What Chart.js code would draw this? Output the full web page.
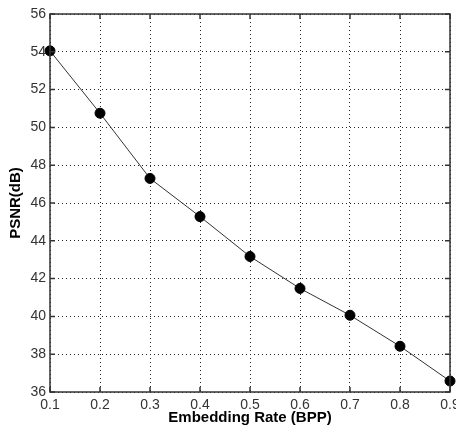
<!DOCTYPE html>
<html>
<head>
<meta charset="utf-8">
<script src="https://cdn.jsdelivr.net/npm/chart.js@4.4.0/dist/chart.umd.min.js"></script>
<style>
	html, body { margin: 0; padding: 0; background: #fff; }
	#psnrChart { display: block; }
</style>
</head>
<body>
<canvas id="psnrChart" width="456" height="438"></canvas>
<script>
const rates = [0.1, 0.2, 0.3, 0.4, 0.5, 0.6, 0.7, 0.8, 0.9]
const psnr = [54.05, 50.75, 47.3, 45.28, 43.17, 41.48, 40.06, 38.42, 36.58]
const xTicks = [0.1, 0.2, 0.3, 0.4, 0.5, 0.6, 0.7, 0.8, 0.9]
const yTicks = [36, 38, 40, 42, 44, 46, 48, 50, 52, 54, 56]

// matlab style little ticks inside the box
const innerTicks = {
	id: 'innerTicks',
	afterDatasetsDraw(chart) {
		const c = chart.ctx, a = chart.chartArea
		const xs = chart.scales.x, ys = chart.scales.y
		c.save()
		c.strokeStyle = '#333'
		c.lineWidth = 1.5
		c.beginPath()
		xTicks.forEach(v => {
			const px = xs.getPixelForValue(v)
			c.moveTo(px, a.bottom); c.lineTo(px, a.bottom - 5)
			c.moveTo(px, a.top); c.lineTo(px, a.top + 5)
		})
		yTicks.forEach(v => {
			const py = ys.getPixelForValue(v)
			c.moveTo(a.left, py); c.lineTo(a.left + 5, py)
			c.moveTo(a.right, py); c.lineTo(a.right - 5, py)
		})
		c.stroke()
		c.strokeRect(a.left, a.top, a.right - a.left, a.bottom - a.top)
		c.restore()
	}
}

const ctx = document.getElementById('psnrChart')
new Chart(ctx, {
	type: 'line',
	data: {
		datasets: [{
			data: rates.map((r, i) => ({ x: r, y: psnr[i] })),
			borderColor: '#333',
			borderWidth: 1,
			pointBackgroundColor: '#000',
			pointBorderColor: '#000',
			pointRadius: 5,
			tension: 0
		}]
	},
	options: {
		responsive: false,
		animation: false,
		clip: false,
		layout: { padding: { top: 14, right: 4, left: 7, bottom: 11 } },
		plugins: { legend: { display: false }, tooltip: { enabled: false } },
		scales: {
			x: {
				type: 'linear',
				min: 0.1,
				max: 0.9,
				afterBuildTicks: s => { s.ticks = xTicks.map(v => ({ value: v })) },
				afterFit: s => { s.height = 35; s.paddingRight = 0; s.paddingLeft = 0 },
				grid: { color: '#222', lineWidth: 1, drawTicks: false },
				border: { display: false, dash: [1, 3] },
				ticks: {
					padding: 5,
					color: '#333',
					font: { family: 'Liberation Sans', size: 14 },
					callback: v => v.toFixed(1)
				},
				title: {
					display: true,
					text: 'Embedding Rate (BPP)',
					color: '#000',
					padding: { top: 0, bottom: 0 },
					font: { family: 'Liberation Sans', size: 15, weight: 'bold' }
				}
			},
			y: {
				min: 36,
				max: 56,
				afterBuildTicks: s => { s.ticks = yTicks.map(v => ({ value: v })) },
				afterFit: s => { s.width = 43 },
				grid: { color: '#222', lineWidth: 1, drawTicks: false },
				border: { display: false, dash: [1, 3] },
				ticks: {
					padding: 4,
					color: '#333',
					font: { family: 'Liberation Sans', size: 14 }
				},
				title: {
					display: true,
					text: 'PSNR(dB)',
					color: '#000',
					padding: { top: 0, bottom: 0 },
					font: { family: 'Liberation Sans', size: 15, weight: 'bold' }
				}
			}
		}
	},
	plugins: [innerTicks]
})
</script>
</body>
</html>
